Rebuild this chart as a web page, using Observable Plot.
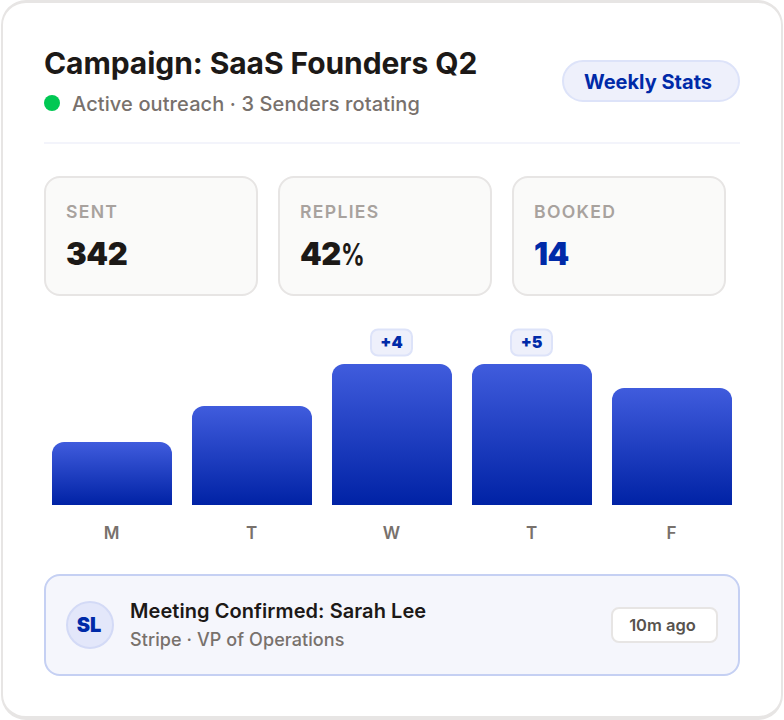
<!DOCTYPE html>
<html><head><meta charset="utf-8">
<script src="https://cdn.jsdelivr.net/npm/d3@7"></script>
<script src="https://cdn.jsdelivr.net/npm/@observablehq/plot@0.6"></script>
<style>
html,body{margin:0;padding:0;background:#fff;width:784px;height:720px;overflow:hidden;font-family:Inter,sans-serif}
.card{position:absolute;left:1px;top:0;width:781.7px;height:720px;box-sizing:border-box;border-style:solid;border-color:#e7e5e4;border-width:3px 2.4px 4px 2.4px;border-radius:25px;background:#fff}
.abs{position:absolute;white-space:nowrap;box-sizing:border-box}
.title{left:44px;top:44px;font-size:30px;line-height:38px;font-weight:700;color:#1c1917;letter-spacing:-.08px}
.dot{left:44px;top:95px;width:16px;height:16px;border-radius:50%;background:#00c853}
.sub{left:72px;top:91px;font-size:20px;line-height:27px;font-weight:500;color:#78716c;letter-spacing:.11px}
.pill{left:562px;top:60px;width:178px;height:42px;padding-right:6px;border:2px solid #dde3f9;border-radius:21px;background:#eef0fb;color:#002aa8;font-size:20px;font-weight:700;line-height:40px;text-align:center}
.rule{left:44px;top:142px;width:696px;height:2px;background:#f3f4fb}
.stat{top:176px;width:214px;height:120px;border:2px solid #e7e5e4;border-radius:16px;background:#fafaf9}
.lab{position:absolute;left:20px;top:23px;font-size:17.6px;line-height:22px;font-weight:600;letter-spacing:1.3px;color:#a8a29e}
.val{position:absolute;left:20px;top:56px;font-size:31px;line-height:40px;font-weight:900;color:#1c1917;letter-spacing:-.4px}
.val span{display:inline-block;font-weight:700;font-size:30px;transform:scaleX(.78);transform-origin:left center}
#chart{position:absolute;left:0;top:320px}
#chart svg{display:block;overflow:visible}
.notice{left:44px;top:574px;width:696px;height:102px;border:2px solid #c5d0f3;border-radius:16px;background:#f5f6fc}
.av{left:66px;top:601px;width:48px;height:48px;padding-right:2px;border-radius:50%;border:2px solid #d3daf6;background:#e3e7fa;color:#002aa8;font-size:20px;font-weight:900;line-height:44px;text-align:center}
.who{left:130px;top:598px;font-size:20px;line-height:26px;font-weight:600;color:#1c1917;letter-spacing:.07px}
.role{left:130px;top:627px;font-size:18px;line-height:26px;font-weight:500;color:#78716c;letter-spacing:.08px}
.ago{left:611px;top:607px;width:107px;height:36px;padding-right:4px;border:2px solid #e7e5e4;border-radius:8px;background:#fff;color:#57534e;font-size:16.5px;font-weight:600;line-height:32px;text-align:center}
</style></head><body>
<div class="card"></div>
<div class="abs title">Campaign: SaaS Founders Q2</div>
<div class="abs dot"></div>
<div class="abs sub">Active outreach · 3 Senders rotating</div>
<div class="abs pill">Weekly Stats</div>
<div class="abs rule"></div>
<div id="stats"></div>
<div id="chart"></div>
<div class="abs notice"></div>
<div class="abs av">SL</div>
<div class="abs who">Meeting Confirmed: Sarah Lee</div>
<div class="abs role">Stripe · VP of Operations</div>
<div class="abs ago">10m ago</div>
<script>
const days = ["Mon","Tue","Wed","Thu","Fri"];
const dayLabels = ["M","T","W","T","F"];
const barValues = [44.7,70.2,100,100,83];
const badges = ["","","+4","+5",""];
const statNames = ["SENT","REPLIES","BOOKED"];
const statValues = ["342","42%","14"];
const statColors = ["#1c1917","#1c1917","#002aa8"];
const statLefts = [44,278,512];

const statsEl = document.getElementById("stats");
statNames.forEach((n,i)=>{
  const d=document.createElement("div");d.className="abs stat";d.style.left=statLefts[i]+"px";
  const a=document.createElement("div");a.className="lab";a.textContent=n;
  const b=document.createElement("div");b.className="val";b.style.color=statColors[i];
  const v=statValues[i];
  if(v.endsWith("%")){
    b.append(v.slice(0,-1));
    const s=document.createElement("span");s.textContent="%";b.append(s);
  } else b.textContent=v;
  d.append(a,b);statsEl.append(d);
});

const rows = days.map((day,i)=>({day,label:dayLabels[i],value:barValues[i],badge:badges[i]}));
const badgeRows = rows.filter(d=>d.badge);
const badgeSymbol = {draw(ctx){
  const w=20.5,h=13,r=7;
  ctx.moveTo(-w+r,-h);ctx.lineTo(w-r,-h);ctx.arcTo(w,-h,w,-h+r,r);ctx.lineTo(w,h-r);ctx.arcTo(w,h,w-r,h,r);
  ctx.lineTo(-w+r,h);ctx.arcTo(-w,h,-w,h-r,r);ctx.lineTo(-w,-h+r);ctx.arcTo(-w,-h,-w+r,-h,r);ctx.closePath();
}};
const gradient = () => {
  const s=d3.create("svg:defs");
  const g=s.append("linearGradient").attr("id","barGrad").attr("x1",0).attr("y1",0).attr("x2",0).attr("y2",1);
  g.append("stop").attr("offset","0%").attr("stop-color","#405cdd");
  g.append("stop").attr("offset","100%").attr("stop-color","#0022a5");
  return s.node();
};
const plot = Plot.plot({
  width:784,height:225,
  marginLeft:52,marginRight:52,marginTop:44,marginBottom:40,
  style:{fontFamily:"Inter, sans-serif",background:"transparent",overflow:"visible"},
  x:{domain:days,paddingInner:1/7,paddingOuter:0,label:null,tickFormat:d=>dayLabels[days.indexOf(d)]},
  y:{domain:[0,100],axis:null,label:null},
  marks:[
    gradient,
    Plot.barY(rows,{x:"day",y:"value",fill:"url(#barGrad)",rx1y1:12,rx2y1:12}),
    Plot.dot(badgeRows,{x:"day",y:"value",symbol:badgeSymbol,r:20,dx:-1,dy:-22,fill:"#eef0fb",stroke:"#dde3f9",strokeWidth:2}),
    Plot.text(badgeRows,{x:"day",y:"value",text:"badge",dx:-1,dy:-22,fontSize:16,fontWeight:900,fill:"#002aa8"}),
    Plot.axisX({domain:days,tickSize:0,tickPadding:21,dx:-1,fontSize:17,fontWeight:600,color:"#78716c",label:null,tickFormat:d=>dayLabels[days.indexOf(d)]})
  ]
});
document.getElementById("chart").append(plot);
</script>
</body></html>
